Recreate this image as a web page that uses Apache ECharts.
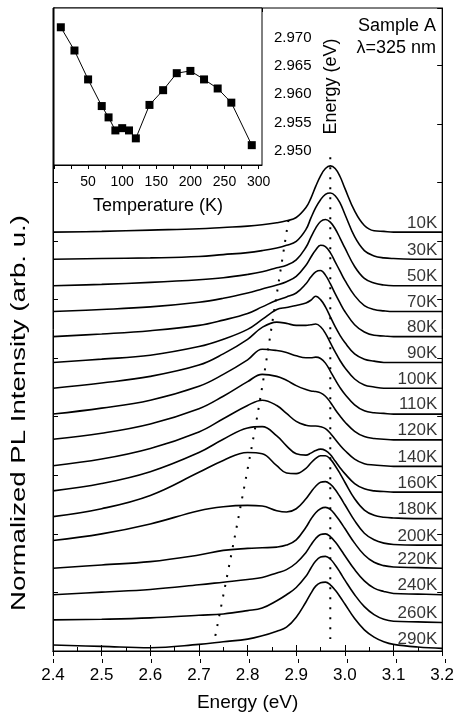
<!DOCTYPE html>
<html lang="en">
<head>
    <meta charset="UTF-8">
    <title>PL spectra</title>
    <script src="https://cdn.jsdelivr.net/npm/echarts@6/dist/echarts.min.js"></script>
    <style>html, body { margin: 0; padding: 0; background: #fff; }</style>
</head>
<body>
<div id="chart1" style="width: 457px;height:717px;"></div>
<script type="text/javascript">
    // energy grid (eV) on which the spectra were read
    var energies = [2.40, 2.50, 2.60, 2.70, 2.75, 2.80, 2.83, 2.86, 2.88, 2.90, 2.92, 2.93, 2.94, 2.95, 2.96, 2.97, 2.98, 2.99, 3.00, 3.02, 3.04, 3.06, 3.08, 3.10, 3.15, 3.20];

    var tempLabels = ['10K', '30K', '50K', '70K', '80K', '90K', '100K', '110K', '120K', '140K', '160K', '180K', '200K', '220K', '240K', '260K', '290K'];
    // vertical offset of each spectrum (arb. u.)
    var offsets = [6.33, 5.92, 5.52, 5.13, 4.75, 4.36, 3.97, 3.58, 3.19, 2.79, 2.40, 2.00, 1.60, 1.25, 0.85, 0.43, 0.04];

    // normalized PL intensity, one row per temperature
    var pl10 = [0.00, 0.01, 0.03, 0.05, 0.07, 0.09, 0.11, 0.14, 0.17, 0.22, 0.37, 0.51, 0.69, 0.85, 0.96, 1.00, 0.96, 0.84, 0.66, 0.32, 0.10, 0.02, 0.01, 0.00, 0.00, 0.00];
    var pl30 = [0.00, 0.01, 0.02, 0.04, 0.07, 0.10, 0.13, 0.17, 0.21, 0.27, 0.45, 0.62, 0.78, 0.90, 0.98, 1.00, 0.96, 0.85, 0.68, 0.34, 0.13, 0.05, 0.02, 0.01, 0.00, 0.00];
    var pl50 = [0.00, 0.02, 0.05, 0.09, 0.12, 0.17, 0.21, 0.27, 0.31, 0.39, 0.58, 0.73, 0.87, 0.97, 1.00, 0.96, 0.86, 0.72, 0.57, 0.29, 0.11, 0.04, 0.01, 0.00, 0.00, 0.00];
    var pl70 = [0.00, 0.03, 0.07, 0.14, 0.20, 0.28, 0.34, 0.40, 0.45, 0.53, 0.70, 0.82, 0.93, 1.00, 0.98, 0.89, 0.75, 0.61, 0.47, 0.24, 0.09, 0.03, 0.01, 0.00, 0.00, 0.00];
    var pl80 = [0.00, 0.04, 0.09, 0.17, 0.25, 0.35, 0.45, 0.55, 0.60, 0.66, 0.80, 0.90, 0.98, 1.00, 0.93, 0.80, 0.65, 0.51, 0.38, 0.18, 0.07, 0.02, 0.01, 0.00, 0.00, 0.00];
    var pl90 = [0.00, 0.05, 0.11, 0.24, 0.35, 0.50, 0.65, 0.80, 0.83, 0.86, 0.90, 0.94, 1.00, 0.95, 0.84, 0.69, 0.54, 0.41, 0.30, 0.13, 0.05, 0.02, 0.00, 0.00, 0.00, 0.00];
    var pl100 = [0.00, 0.08, 0.18, 0.35, 0.52, 0.74, 0.92, 1.00, 0.98, 0.95, 0.95, 0.96, 0.97, 0.93, 0.83, 0.69, 0.55, 0.42, 0.31, 0.14, 0.05, 0.02, 0.00, 0.00, 0.00, 0.00];
    var pl110 = [0.00, 0.09, 0.21, 0.42, 0.60, 0.82, 0.98, 0.96, 0.93, 0.88, 0.85, 0.85, 0.86, 0.84, 0.77, 0.65, 0.52, 0.40, 0.30, 0.14, 0.05, 0.02, 0.01, 0.00, 0.00, 0.00];
    var pl120 = [0.01, 0.10, 0.24, 0.47, 0.66, 0.88, 0.99, 0.96, 0.90, 0.82, 0.76, 0.74, 0.73, 0.71, 0.66, 0.57, 0.46, 0.36, 0.27, 0.13, 0.05, 0.02, 0.01, 0.00, 0.00, 0.00];
    var pl140 = [0.01, 0.11, 0.27, 0.52, 0.72, 0.92, 1.00, 0.92, 0.80, 0.68, 0.62, 0.61, 0.61, 0.60, 0.57, 0.50, 0.41, 0.32, 0.24, 0.11, 0.04, 0.02, 0.01, 0.00, 0.00, 0.00];
    var pl160 = [0.02, 0.13, 0.31, 0.60, 0.80, 0.97, 0.99, 0.85, 0.70, 0.58, 0.56, 0.59, 0.63, 0.65, 0.63, 0.57, 0.47, 0.37, 0.28, 0.13, 0.05, 0.02, 0.01, 0.00, 0.00, 0.00];
    var pl180 = [0.03, 0.15, 0.35, 0.70, 0.88, 1.00, 0.98, 0.80, 0.69, 0.68, 0.76, 0.84, 0.91, 0.95, 0.95, 0.90, 0.80, 0.68, 0.55, 0.30, 0.13, 0.05, 0.02, 0.01, 0.00, 0.00];
    var pl200 = [0.07, 0.17, 0.32, 0.52, 0.58, 0.60, 0.59, 0.52, 0.50, 0.55, 0.70, 0.80, 0.89, 0.95, 0.96, 0.92, 0.84, 0.73, 0.61, 0.37, 0.18, 0.08, 0.03, 0.01, 0.00, 0.00];
    var pl220 = [0.00, 0.05, 0.10, 0.20, 0.27, 0.30, 0.31, 0.32, 0.35, 0.43, 0.62, 0.74, 0.84, 0.90, 0.92, 0.89, 0.81, 0.71, 0.60, 0.38, 0.20, 0.09, 0.04, 0.02, 0.01, 0.00];
    var pl240 = [0.00, 0.04, 0.08, 0.15, 0.19, 0.23, 0.26, 0.33, 0.38, 0.48, 0.64, 0.75, 0.85, 0.91, 0.92, 0.88, 0.80, 0.70, 0.59, 0.38, 0.21, 0.10, 0.05, 0.02, 0.01, 0.00];
    var pl260 = [0.04, 0.05, 0.07, 0.11, 0.13, 0.18, 0.22, 0.33, 0.42, 0.53, 0.70, 0.82, 0.93, 0.99, 1.00, 0.96, 0.87, 0.76, 0.64, 0.42, 0.24, 0.12, 0.05, 0.02, 0.01, 0.00];
    var pl290 = [0.05, 0.03, 0.01, 0.06, 0.10, 0.14, 0.19, 0.26, 0.32, 0.47, 0.70, 0.83, 0.94, 0.99, 1.00, 0.96, 0.88, 0.78, 0.67, 0.45, 0.28, 0.17, 0.10, 0.06, 0.02, 0.00];
    var spectra = [pl10, pl30, pl50, pl70, pl80, pl90, pl100, pl110, pl120, pl140, pl160, pl180, pl200, pl220, pl240, pl260, pl290];

    // guide lines (dotted): low-energy band and high-energy peak
    var guideLow = [[2.884, 6.51], [2.855, 5.16], [2.822, 3.64], [2.780, 1.97], [2.731, 0.13]];
    var guideHigh = [[2.97, 7.46], [2.97, 0.18]];

    // inset: peak energy vs temperature
    var insetTemps = [10, 30, 50, 70, 80, 90, 100, 110, 120, 140, 160, 180, 200, 220, 240, 260, 290];
    var insetPeak = [2.9718, 2.9677, 2.9626, 2.9579, 2.9559, 2.9536, 2.9540, 2.9536, 2.9522, 2.9581, 2.9607, 2.9637, 2.9641, 2.9626, 2.9610, 2.9585, 2.9510];

    var FONT = 'Liberation Sans';
    var chart1 = echarts.init(document.getElementById('chart1'));

    var series = [];
    for (var i = 0; i < spectra.length; i++) {
        var pts = [];
        for (var j = 0; j < energies.length; j++) {
            pts.push([energies[j], offsets[i] + spectra[i][j]]);
        }
        series.push({
            type: 'line', xAxisIndex: 0, yAxisIndex: 0,
            data: pts, smooth: 0.4, symbol: 'none', silent: true,
            lineStyle: {color: '#000', width: 1.6}, z: 3
        });
    }

    var labelPts = [];
    for (var k = 0; k < tempLabels.length; k++) {
        labelPts.push([3.19, offsets[k] + 0.14, tempLabels[k]]);
    }
    series.push({
        type: 'scatter', xAxisIndex: 0, yAxisIndex: 0, data: labelPts,
        symbolSize: 0, silent: true, z: 5,
        label: {
            show: true, position: 'left', distance: 0,
            formatter: function (p) { return p.data[2]; },
            color: '#000', fontFamily: FONT, fontSize: 17
        }
    });

    var dotted = {color: '#000', width: 2, type: [2, 8]};
    series.push({type: 'line', xAxisIndex: 0, yAxisIndex: 0, data: guideLow, smooth: 0.3,
        symbol: 'none', silent: true, lineStyle: dotted, z: 4});
    series.push({type: 'line', xAxisIndex: 0, yAxisIndex: 0, data: guideHigh,
        symbol: 'none', silent: true, lineStyle: dotted, z: 4});

    var insetData = [];
    for (var m = 0; m < insetTemps.length; m++) insetData.push([insetTemps[m], insetPeak[m]]);
    series.push({
        type: 'line', xAxisIndex: 2, yAxisIndex: 2, data: insetData,
        symbol: 'rect', symbolSize: 8, silent: true, z: 6,
        itemStyle: {color: '#000'}, lineStyle: {color: '#000', width: 1}
    });

    var option = {
        animation: false,
        backgroundColor: '#fff',
        textStyle: {fontFamily: FONT, color: '#000'},
        graphic: [
            {
                type: 'text', right: 21, top: 15, z: 10,
                style: {text: 'Sample A\nλ=325 nm', fill: '#000', font: '18px "Liberation Sans"',
                    textAlign: 'right', lineHeight: 22}
            },
            {
                // y axis title, drawn as a graphic so it can be stretched like the original
                type: 'text', x: 19, y: 413, rotation: Math.PI / 2, scaleX: 1.38, z: 10,
                style: {text: 'Normalized PL Intensity (arb. u.)', fill: '#000', font: '20px "Liberation Sans"',
                    textAlign: 'center', textVerticalAlign: 'middle'}
            }
        ],
        grid: [
            {left: 53, right: 12, top: 8, bottom: 58, show: true, borderColor: '#000', borderWidth: 1},
            {left: 54, top: 8, width: 208, height: 157, show: true, backgroundColor: '#fff',
                borderColor: '#000', borderWidth: 1, z: 5},
            {left: 53, right: 12, top: 8, bottom: 58, show: false}
        ],
        xAxis: [
            {
                gridIndex: 0, type: 'value', min: 2.4, max: 3.2, interval: 0.1,
                axisLine: {lineStyle: {color: '#000'}},
                axisTick: {inside: true, length: 6, lineStyle: {color: '#000'}},
                minorTick: {show: true, splitNumber: 2, length: 4, lineStyle: {color: '#000'}},
                splitLine: {show: false},
                axisLabel: {color: '#000', fontSize: 17, margin: 16, fontFamily: FONT,
                    formatter: function (v) { return v.toFixed(1); }},
                name: 'Energy (eV)', nameLocation: 'middle', nameGap: 42,
                nameTextStyle: {color: '#000', fontSize: 19, fontFamily: FONT}
            },
            {
                gridIndex: 0, type: 'value', position: 'top', min: 2.4, max: 3.2, interval: 0.1,
                axisLine: {lineStyle: {color: '#000'}},
                axisTick: {inside: true, length: 5, lineStyle: {color: '#000'}},
                axisLabel: {show: false}, splitLine: {show: false}
            },
            {
                gridIndex: 1, type: 'value', min: 0, max: 305, interval: 25,
                axisLine: {lineStyle: {color: '#000'}},
                axisTick: {inside: false, length: 4, lineStyle: {color: '#000'}},
                splitLine: {show: false},
                axisLabel: {color: '#000', fontSize: 14, margin: 10, fontFamily: FONT, showMaxLabel: false,
                    formatter: function (v) { return (v > 0 && v % 50 === 0) ? String(v) : ''; }},
                name: 'Temperature (K)', nameLocation: 'middle', nameGap: 32,
                nameTextStyle: {color: '#000', fontSize: 18, fontFamily: FONT}
            },
            {
                gridIndex: 1, type: 'value', position: 'top', min: 0, max: 305, interval: 25,
                axisLine: {lineStyle: {color: '#000'}},
                axisTick: {inside: true, length: 4, lineStyle: {color: '#000'}},
                axisLabel: {show: false}, splitLine: {show: false}
            },
            {
                // outer half of the major ticks on the energy axis
                gridIndex: 2, type: 'value', min: 2.4, max: 3.2, interval: 0.1,
                axisLine: {show: false},
                axisTick: {inside: false, length: 4, lineStyle: {color: '#000'}},
                axisLabel: {show: false}, splitLine: {show: false}
            }
        ],
        yAxis: [
            {
                gridIndex: 0, type: 'value', min: 0, max: 9.716, interval: 0.885,
                axisLine: {lineStyle: {color: '#000'}},
                axisTick: {inside: true, length: 5, lineStyle: {color: '#000'}},
                axisLabel: {show: false}, splitLine: {show: false}
            },
            {
                gridIndex: 0, type: 'value', position: 'right', min: 0, max: 9.716, interval: 0.885,
                axisLine: {lineStyle: {color: '#000'}},
                axisTick: {inside: true, length: 5, lineStyle: {color: '#000'}},
                axisLabel: {show: false}, splitLine: {show: false}
            },
            {
                gridIndex: 1, type: 'value', position: 'right', min: 2.9475, max: 2.9752, interval: 0.0025,
                axisLine: {lineStyle: {color: '#000'}},
                axisTick: {inside: false, length: 4, lineStyle: {color: '#000'}},
                splitLine: {show: false},
                axisLabel: {color: '#000', fontSize: 15, margin: 12, fontFamily: FONT,
                    formatter: function (v) {
                        var onMajor = Math.abs(v * 200 - Math.round(v * 200)) < 1e-6;
                        return (onMajor && v < 2.9725) ? v.toFixed(3) : '';
                    }},
                name: 'Energy (eV)', nameLocation: 'middle', nameGap: 60, nameRotate: 90,
                nameTextStyle: {color: '#000', fontSize: 18, fontFamily: FONT}
            },
            {
                gridIndex: 2, type: 'value', min: 0, max: 1, show: false
            }
        ],
        series: series
    };
    chart1.setOption(option);
</script>
</body>
</html>
